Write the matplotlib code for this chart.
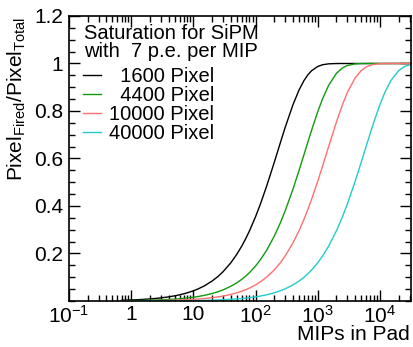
import matplotlib
matplotlib.use("Agg")
import matplotlib.pyplot as plt
from matplotlib.ticker import LogLocator, FixedLocator, MultipleLocator, NullFormatter

plt.rcParams['font.family'] = ['Liberation Sans', 'DejaVu Sans']
plt.rcParams['mathtext.fontset'] = 'custom'
plt.rcParams['mathtext.rm'] = 'Liberation Sans'
plt.rcParams['mathtext.default'] = 'regular'

# number of MIPs in the pad
mips = [0.7,
        1, 1.2, 1.5, 2, 2.5, 3, 4, 5, 6, 7, 8,
        10, 12, 15, 20, 25, 30, 40, 50, 60, 70, 80,
        100, 120, 150, 200, 250, 300, 400, 500, 600, 700, 800,
        1000, 1200, 1500, 2000, 2500, 3000, 4000, 5000, 6000, 7000, 8000,
        10000, 12000, 15000, 20000, 25000, 31600]

# fraction of fired pixels for each SiPM size
frac_1600 = [0.0031,
             0.0044, 0.0052, 0.0065, 0.0087, 0.0109, 0.0130, 0.0173, 0.0216, 0.0259, 0.0302, 0.0344,
             0.0428, 0.0511, 0.0635, 0.0838, 0.1036, 0.1230, 0.1605, 0.1965, 0.2309, 0.2638, 0.2953,
             0.3544, 0.4085, 0.4812, 0.5831, 0.6651, 0.7309, 0.8262, 0.8878, 0.9276, 0.9532, 0.9698,
             0.9874, 0.9948, 0.9986, 0.9998, 1.0, 1.0, 1.0, 1.0, 1.0, 1.0, 1.0,
             1.0, 1.0, 1.0, 1.0, 1.0, 1.0]
frac_4400 = [0.0011,
             0.0016, 0.0019, 0.0024, 0.0032, 0.0040, 0.0048, 0.0063, 0.0079, 0.0095, 0.0111, 0.0126,
             0.0158, 0.0189, 0.0236, 0.0313, 0.0390, 0.0466, 0.0617, 0.0765, 0.0910, 0.1054, 0.1195,
             0.1471, 0.1738, 0.2123, 0.2725, 0.3282, 0.3795, 0.4708, 0.5487, 0.6150, 0.6717, 0.7199,
             0.7963, 0.8518, 0.9081, 0.9585, 0.9813, 0.9915, 0.9983, 0.9996, 0.9999, 1.0, 1.0,
             1.0, 1.0, 1.0, 1.0, 1.0, 1.0]
frac_10000 = [0.0005,
              0.0007, 0.0008, 0.0010, 0.0014, 0.0017, 0.0021, 0.0028, 0.0035, 0.0042, 0.0049, 0.0056,
              0.0070, 0.0084, 0.0104, 0.0139, 0.0173, 0.0208, 0.0276, 0.0344, 0.0411, 0.0478, 0.0545,
              0.0676, 0.0806, 0.0997, 0.1306, 0.1605, 0.1894, 0.2442, 0.2953, 0.3430, 0.3874, 0.4288,
              0.5034, 0.5683, 0.6501, 0.7534, 0.8262, 0.8775, 0.9392, 0.9698, 0.9850, 0.9926, 0.9963,
              0.9991, 0.9998, 1.0, 1.0, 1.0, 1.0]
frac_40000 = [0.0001,
              0.0002, 0.0002, 0.0003, 0.0004, 0.0004, 0.0005, 0.0007, 0.0009, 0.0010, 0.0012, 0.0014,
              0.0017, 0.0021, 0.0026, 0.0035, 0.0044, 0.0052, 0.0070, 0.0087, 0.0104, 0.0122, 0.0139,
              0.0173, 0.0208, 0.0259, 0.0344, 0.0428, 0.0511, 0.0676, 0.0837, 0.0997, 0.1153, 0.1306,
              0.1605, 0.1894, 0.2308, 0.2953, 0.3543, 0.4084, 0.5034, 0.5831, 0.6501, 0.7061, 0.7534,
              0.8262, 0.8775, 0.9276, 0.9698, 0.9874, 0.9960]

labels = ["  1600 Pixel", "  4400 Pixel", "10000 Pixel", "40000 Pixel"]
colors = ["black", "#109a10", "#ff6f6f", "#22cccc"]

fig = plt.figure(figsize=(4.13, 3.47), dpi=100)
ax = fig.add_axes([0.167, 0.1326, 0.828, 0.8213])

for ys, lab, col in zip([frac_1600, frac_4400, frac_10000, frac_40000], labels, colors):
    ax.plot(mips, ys, color=col, lw=1.0, label=lab)

ax.set_xscale("log")
ax.set_xlim(0.1, 31600)
ax.set_ylim(0, 1.2)

ax.xaxis.set_minor_locator(LogLocator(base=10, subs=range(2, 10), numticks=50))
ax.xaxis.set_minor_formatter(NullFormatter())
ax.set_xticks([0.1, 1, 10, 100, 1000, 10000])
ax.set_xticklabels([r"$10^{-1}$", "1", "10", r"$10^{2}$", r"$10^{3}$", r"$10^{4}$"])

ax.yaxis.set_major_locator(FixedLocator([0.2, 0.4, 0.6, 0.8, 1.0, 1.2]))
ax.set_yticklabels(["0.2", "0.4", "0.6", "0.8", "1", "1.2"])
ax.yaxis.set_minor_locator(MultipleLocator(0.05))

ax.tick_params(which="both", direction="in", top=True, right=True,
               labelsize=15, width=1.0)
ax.tick_params(axis="y", which="major", length=8, pad=4)
ax.tick_params(axis="y", which="minor", length=4)
ax.tick_params(axis="x", which="major", length=8, pad=3)
ax.tick_params(axis="x", which="minor", length=4)
for s in ax.spines.values():
    s.set_linewidth(1.2)

fig.text(0.993, 0.035, "MIPs in Pad", ha="right", va="center", fontsize=15)
fig.text(0.04, 0.95, r"Pixel$_{Fired}$/Pixel$_{Total}$", rotation=90,
         ha="center", va="top", fontsize=15)

ax.text(0.045, 0.937, "Saturation for SiPM", transform=ax.transAxes,
        fontsize=14.5, va="center")
ax.text(0.045, 0.875, "with  7 p.e. per MIP", transform=ax.transAxes,
        fontsize=14.5, va="center")
ax.legend(loc="upper left", bbox_to_anchor=(0.0, 0.872), frameon=False,
          fontsize=14.5, handlelength=0.9, handletextpad=0.4, labelspacing=0.0,
          borderaxespad=0.3)

fig.savefig("out.png", dpi=100)
